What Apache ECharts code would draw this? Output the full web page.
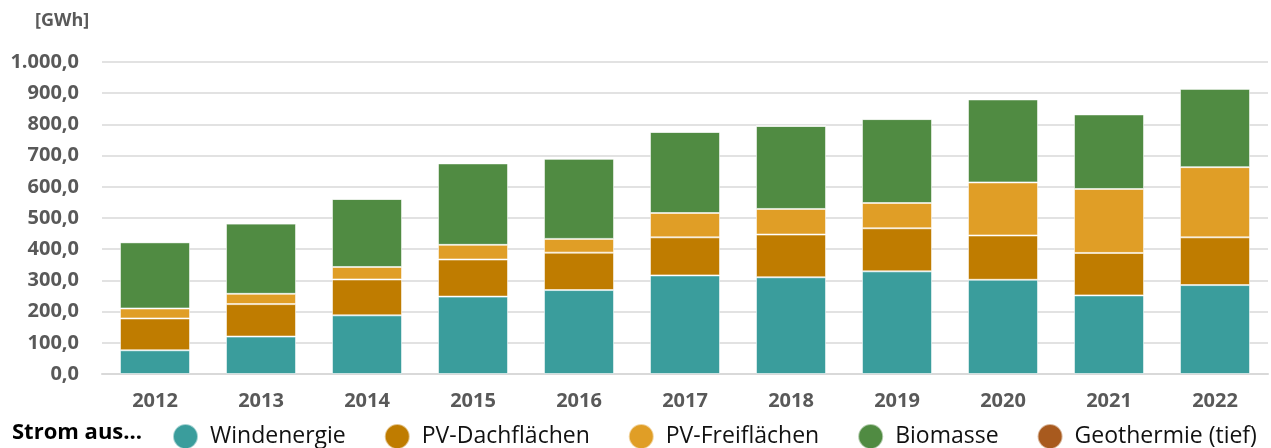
<!DOCTYPE html>
<html><head><meta charset="utf-8">
<script src="https://cdn.jsdelivr.net/npm/echarts@6/dist/echarts.min.js"></script>
<style>html,body{margin:0;padding:0;background:#fff}#c{width:1271px;height:448px}</style>
</head><body><div id="c"></div>
<script>
const categories = ['2012','2013','2014','2015','2016','2017','2018','2019','2020','2021','2022'];
const windenergie = [76,120,188,248,269,316,310,329,302,252,285];
const pvDach = [102,104,115,119,120,122,137,138,142,136,153];
const pvFrei = [32,33,40,47,44,78,82,81,170,205,225];
const biomasse = [212,225,218,261,257,260,266,269,266,239,251];
const geothermie = [0,0,0,0,0,0,0,0,0,0,0];
const yTicks = {min:0, max:1000, interval:100};
const seriesNames = ['Windenergie','PV-Dachflächen','PV-Freiflächen','Biomasse','Geothermie (tief)'];
const colors = ['#3A9D9C','#BF7C00','#E09E26','#508B42','#A85A1E'];
const fmt = v => {
  const s = v.toFixed(1).replace('.', ',');
  const [i, d] = s.split(',');
  return i.replace(/\B(?=(\d{3})+(?!\d))/g, '.') + ',' + d;
};
const chart = echarts.init(document.getElementById('c'));
const dataSets = [windenergie, pvDach, pvFrei, biomasse, geothermie];
const FONT = 'Open Sans';
chart.setOption({
  animation: false,
  color: colors,
  grid: {left: 102, right: 3, top: 62, bottom: 74, containLabel: false},
  graphic: [
    {type:'text', left: 35, top: 12, style:{text:'[GWh]', font:'bold 18px "Open Sans"', fill:'#595959'}},
    {type:'text', left: 12, top: 422, style:{text:'Strom aus...', font:'bold 22px "Open Sans"', fill:'#000'}}
  ],
  legend: {
    left: 167, top: 418, itemWidth: 25, itemHeight: 25, itemGap: 38,
    icon: 'circle',
    textStyle: {fontFamily: FONT, fontSize: 23, color: '#111', padding:[3,0,0,7]},
    data: seriesNames
  },
  xAxis: {
    type: 'category', data: categories,
    axisLine: {lineStyle:{color:'#D9D9D9', width:2}},
    axisTick: {show:false},
    axisLabel: {fontFamily: FONT, fontWeight:'bold', fontSize: 20, color:'#595959', margin: 17}
  },
  yAxis: {
    type: 'value', min: yTicks.min, max: yTicks.max, interval: yTicks.interval,
    axisLine: {show:false}, axisTick: {show:false},
    splitLine: {lineStyle:{color:'#D9D9D9', width:1.5}},
    axisLabel: {fontFamily: FONT, fontWeight:'bold', fontSize: 20, color:'#595959', margin: 23, formatter: fmt}
  },
  series: seriesNames.map((n, i) => ({
    name: n, type: 'bar', stack: 'total', data: dataSets[i], barWidth: 70,
    itemStyle: {borderColor: 'rgba(255,255,255,0.55)', borderWidth: 1}
  }))
});
</script></body></html>
